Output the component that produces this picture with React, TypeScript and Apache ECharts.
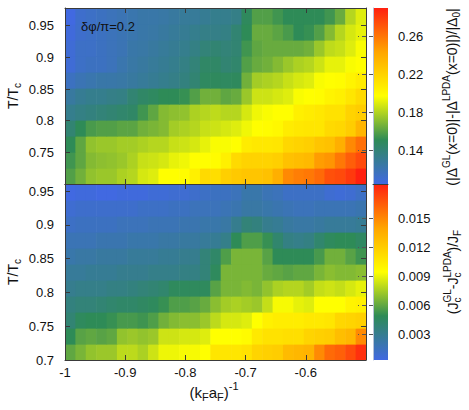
import React, { useEffect, useRef } from 'react';
import * as echarts from 'echarts';

const FONT = '"Liberation Sans", Arial, Helvetica, sans-serif';
const X_MIN = -1;
const X_MAX = -0.5;
const N_COLS = 29;
const TOP_T = [0.7, 0.978];
const BOT_T = [0.7, 0.9604];
const TOP_RANGE = [0.105, 0.2895];
const BOT_RANGE = [0.0004, 0.0185];
const PALETTE = ['#4169e1', '#2e8b57', '#ffff00', '#ffa500', '#ff2010'];

const xTicks = [-1, -0.9, -0.8, -0.7, -0.6];
const xInnerTicks = [-0.9, -0.8, -0.7, -0.6];
const topYTicks = [0.75, 0.8, 0.85, 0.9, 0.95];
const botYTicks = [0.7, 0.75, 0.8, 0.85, 0.9, 0.95];
const topBarTicks = [0.14, 0.18, 0.22, 0.26];
const botBarTicks = [0.003, 0.006, 0.009, 0.012, 0.015];

// (|Δ^GL(x=0)|-|Δ^LPDA(x=0)|)/|Δ0| ; rows from lowest T (bottom) to highest T (top), 29 columns each
const gapRows = [
  [0.159,0.166,0.173,0.175,0.175,0.179,0.181,0.188,0.190,0.198,0.198,0.199,0.205,0.216,0.214,0.222,0.225,0.227,0.227,0.229,0.238,0.253,0.257,0.259,0.264,0.273,0.275,0.281,0.290],
  [0.155,0.162,0.170,0.172,0.173,0.175,0.179,0.185,0.186,0.188,0.192,0.194,0.198,0.198,0.199,0.205,0.216,0.220,0.220,0.220,0.222,0.229,0.231,0.233,0.246,0.249,0.259,0.268,0.275],
  [0.151,0.162,0.173,0.175,0.175,0.177,0.177,0.179,0.181,0.181,0.185,0.186,0.188,0.192,0.196,0.196,0.198,0.207,0.209,0.209,0.210,0.218,0.220,0.222,0.227,0.229,0.238,0.253,0.262],
  [0.142,0.151,0.157,0.159,0.159,0.161,0.161,0.166,0.168,0.170,0.177,0.179,0.181,0.185,0.186,0.188,0.190,0.194,0.198,0.199,0.201,0.207,0.209,0.210,0.210,0.216,0.218,0.223,0.235],
  [0.133,0.136,0.138,0.140,0.142,0.144,0.146,0.155,0.162,0.170,0.172,0.173,0.179,0.181,0.183,0.181,0.181,0.188,0.194,0.196,0.198,0.198,0.205,0.207,0.209,0.212,0.212,0.220,0.223],
  [0.127,0.131,0.133,0.133,0.135,0.136,0.142,0.146,0.148,0.151,0.151,0.153,0.159,0.166,0.166,0.162,0.164,0.175,0.186,0.186,0.188,0.190,0.196,0.198,0.199,0.203,0.205,0.210,0.216],
  [0.116,0.120,0.122,0.124,0.124,0.125,0.127,0.129,0.131,0.133,0.135,0.138,0.142,0.148,0.149,0.148,0.149,0.166,0.177,0.179,0.181,0.185,0.188,0.190,0.196,0.198,0.199,0.203,0.207],
  [0.109,0.114,0.116,0.116,0.118,0.122,0.125,0.127,0.129,0.131,0.133,0.136,0.140,0.146,0.146,0.142,0.144,0.159,0.164,0.166,0.170,0.175,0.179,0.181,0.186,0.192,0.192,0.196,0.198],
  [0.109,0.114,0.114,0.116,0.118,0.120,0.124,0.125,0.127,0.129,0.131,0.133,0.136,0.140,0.142,0.140,0.142,0.155,0.162,0.164,0.164,0.164,0.164,0.166,0.175,0.183,0.185,0.190,0.196],
  [0.107,0.112,0.114,0.116,0.118,0.120,0.122,0.124,0.125,0.127,0.129,0.131,0.133,0.135,0.135,0.136,0.142,0.151,0.164,0.164,0.161,0.157,0.151,0.153,0.159,0.170,0.181,0.188,0.192],
  [0.105,0.112,0.114,0.116,0.118,0.120,0.122,0.124,0.124,0.125,0.127,0.129,0.129,0.131,0.133,0.133,0.135,0.149,0.159,0.159,0.155,0.151,0.151,0.151,0.151,0.155,0.164,0.181,0.190],
];

// (Jc^GL - Jc^LPDA)/JF ; rows from lowest T (bottom) to highest T (top)
const jcRows = [
  [0.00601,0.00655,0.00710,0.00728,0.00728,0.00800,0.00800,0.00764,0.00836,0.00909,0.00909,0.00927,0.00927,0.00945,0.01072,0.01072,0.01072,0.01090,0.01162,0.01180,0.01198,0.01289,0.01307,0.01325,0.01488,0.01597,0.01633,0.01705,0.01796],
  [0.00493,0.00583,0.00601,0.00583,0.00601,0.00710,0.00728,0.00710,0.00728,0.00836,0.00836,0.00855,0.00855,0.00873,0.00945,0.00945,0.00945,0.00963,0.01054,0.01090,0.01090,0.01108,0.01108,0.01162,0.01180,0.01198,0.01271,0.01307,0.01488],
  [0.00402,0.00474,0.00493,0.00493,0.00511,0.00547,0.00547,0.00529,0.00565,0.00637,0.00674,0.00692,0.00692,0.00728,0.00800,0.00855,0.00855,0.00873,0.00945,0.01017,0.01036,0.01036,0.01036,0.01054,0.01054,0.01072,0.01144,0.01162,0.01180],
  [0.00366,0.00384,0.00384,0.00402,0.00420,0.00438,0.00438,0.00456,0.00474,0.00511,0.00565,0.00565,0.00583,0.00619,0.00692,0.00746,0.00764,0.00746,0.00728,0.00818,0.00927,0.00927,0.00891,0.00873,0.00945,0.00945,0.00945,0.00999,0.01017],
  [0.00312,0.00330,0.00330,0.00330,0.00348,0.00348,0.00366,0.00384,0.00402,0.00420,0.00474,0.00474,0.00474,0.00474,0.00583,0.00655,0.00655,0.00674,0.00655,0.00710,0.00764,0.00782,0.00782,0.00746,0.00818,0.00836,0.00818,0.00855,0.00891],
  [0.00275,0.00275,0.00293,0.00293,0.00293,0.00312,0.00312,0.00312,0.00330,0.00330,0.00330,0.00348,0.00348,0.00384,0.00474,0.00655,0.00655,0.00655,0.00655,0.00619,0.00601,0.00583,0.00601,0.00601,0.00655,0.00692,0.00674,0.00674,0.00692],
  [0.00221,0.00239,0.00239,0.00257,0.00257,0.00257,0.00275,0.00275,0.00275,0.00293,0.00293,0.00312,0.00312,0.00384,0.00438,0.00565,0.00655,0.00655,0.00655,0.00583,0.00493,0.00493,0.00493,0.00493,0.00547,0.00637,0.00637,0.00583,0.00529],
  [0.00185,0.00185,0.00185,0.00203,0.00203,0.00203,0.00221,0.00221,0.00221,0.00239,0.00239,0.00257,0.00257,0.00275,0.00293,0.00330,0.00493,0.00565,0.00565,0.00511,0.00420,0.00348,0.00330,0.00348,0.00420,0.00474,0.00493,0.00493,0.00456],
  [0.00131,0.00149,0.00149,0.00149,0.00149,0.00167,0.00167,0.00167,0.00185,0.00185,0.00185,0.00203,0.00203,0.00221,0.00221,0.00239,0.00312,0.00384,0.00366,0.00312,0.00293,0.00257,0.00239,0.00239,0.00257,0.00275,0.00275,0.00275,0.00293],
  [0.00094,0.00112,0.00112,0.00112,0.00112,0.00112,0.00112,0.00131,0.00131,0.00131,0.00149,0.00149,0.00167,0.00167,0.00167,0.00185,0.00203,0.00239,0.00239,0.00221,0.00203,0.00185,0.00167,0.00167,0.00185,0.00185,0.00185,0.00185,0.00203],
  [0.00040,0.00058,0.00058,0.00040,0.00040,0.00058,0.00058,0.00058,0.00076,0.00076,0.00094,0.00094,0.00112,0.00131,0.00149,0.00149,0.00167,0.00221,0.00221,0.00185,0.00167,0.00131,0.00131,0.00131,0.00131,0.00094,0.00076,0.00094,0.00131],
];

function toCells(rows: number[][]) {
  const out: number[][] = [];
  rows.forEach((row, r) => row.forEach((v, c) => out.push([c, r, v])));
  return out;
}

let measureCtx: CanvasRenderingContext2D | null = null;
function measure(t: string, size: number) {
  if (!measureCtx) measureCtx = document.createElement('canvas').getContext('2d');
  measureCtx!.font = `${size}px ${FONT}`;
  return measureCtx!.measureText(t).width;
}

type Piece = { t: string; k?: 'sub' | 'sup'; adv?: boolean };
function richLabel(pieces: Piece[], x: number, y: number, size: number, rotation = 0) {
  const small = Math.round(size * 0.74);
  let cur = 0;
  const children: any[] = [];
  for (const p of pieces) {
    const fs = p.k ? small : size;
    const dy = p.k === 'sub' ? size * 0.32 : p.k === 'sup' ? -size * 0.42 : 0;
    children.push({
      type: 'text', x: cur, y: dy,
      style: { text: p.t, fontSize: fs, fontFamily: FONT, fill: '#111', align: 'left', verticalAlign: 'middle' },
    });
    if (p.adv !== false) cur += measure(p.t, fs);
  }
  children.forEach((c) => (c.x -= cur / 2));
  return { type: 'group', x, y, rotation, children };
}

const heatRender = (tRange: number[], nRows: number) => (params: any, api: any) => {
  const c = api.value(0);
  const r = api.value(1);
  const dx = (X_MAX - X_MIN) / N_COLS;
  const dy = (tRange[1] - tRange[0]) / nRows;
  const p0 = api.coord([X_MIN + c * dx, tRange[0] + (r + 1) * dy]);
  const p1 = api.coord([X_MIN + (c + 1) * dx, tRange[0] + r * dy]);
  return {
    type: 'rect',
    shape: { x: p0[0], y: p0[1], width: p1[0] - p0[0] + 0.6, height: p1[1] - p0[1] + 0.6 },
    style: { fill: api.visual('color') },
  };
};

const barRender = (params: any, api: any) => {
  const lo = api.value(0);
  const hi = api.value(1);
  const p0 = api.coord([0, hi]);
  const p1 = api.coord([1, lo]);
  return {
    type: 'rect',
    shape: { x: p0[0], y: p0[1], width: p1[0] - p0[0], height: p1[1] - p0[1] },
    style: {
      fill: new echarts.graphic.LinearGradient(0, 1, 0, 0, PALETTE.map((color, i) => ({ offset: i / (PALETTE.length - 1), color }))),
    },
  };
};

const LINE = '#3a3a3a';
const labelStyle = { fontSize: 13, fontFamily: FONT, color: '#111' };

function frameX(gridIndex: number, position: 'top' | 'bottom', labels: boolean) {
  return {
    type: 'value', gridIndex, position, min: X_MIN, max: X_MAX, z: 10,
    axisLine: { show: true, onZero: false, lineStyle: { color: LINE, width: 1 } },
    axisTick: { show: true, inside: true, length: 5, customValues: xInnerTicks, lineStyle: { color: LINE } },
    axisLabel: labels
      ? { show: true, customValues: xTicks, margin: 6, ...labelStyle }
      : { show: false },
    splitLine: { show: false },
  };
}

function frameY(gridIndex: number, position: 'left' | 'right', range: number[], ticks: number[], labels: boolean) {
  return {
    type: 'value', gridIndex, position, min: range[0], max: range[1], z: 10,
    axisLine: { show: true, onZero: false, lineStyle: { color: LINE, width: 1 } },
    axisTick: { show: true, inside: true, length: 5, customValues: ticks, lineStyle: { color: LINE } },
    axisLabel: labels ? { show: true, customValues: ticks, margin: 11, ...labelStyle } : { show: false },
    splitLine: { show: false },
  };
}

function barY(gridIndex: number, range: number[], ticks: number[]) {
  return {
    type: 'value', gridIndex, position: 'right', min: range[0], max: range[1], z: 10,
    axisLine: { show: true, lineStyle: { color: '#b4c0d8', width: 1 } },
    axisTick: { show: true, inside: true, length: 15, customValues: ticks, lineStyle: { color: '#555', type: [4, 3] } },
    axisLabel: { show: true, customValues: ticks, margin: 10, ...labelStyle },
    splitLine: { show: false },
  };
}

export default function App() {
  const ref = useRef<HTMLDivElement>(null);
  useEffect(() => {
    if (!ref.current) return;
    const chart = echarts.init(ref.current, null, { renderer: 'svg' });
    const option: any = {
      animation: false,
      backgroundColor: '#fff',
      grid: [
        { left: 65, top: 8, width: 301, height: 176 },
        { left: 65, top: 184, width: 301, height: 176 },
        { left: 373, top: 8, width: 15, height: 176 },
        { left: 373, top: 184, width: 15, height: 176 },
      ],
      xAxis: [
        frameX(0, 'bottom', false),
        frameX(0, 'top', false),
        frameX(1, 'bottom', true),
        frameX(1, 'top', false),
        { type: 'value', gridIndex: 2, min: 0, max: 1, show: false },
        {
          type: 'value', gridIndex: 3, min: 0, max: 1, position: 'top', z: 10,
          axisLine: { show: true, onZero: false, lineStyle: { color: LINE } },
          axisTick: { show: false }, axisLabel: { show: false }, splitLine: { show: false },
        },
      ],
      yAxis: [
        frameY(0, 'left', TOP_T, topYTicks, true),
        frameY(0, 'right', TOP_T, topYTicks, false),
        frameY(1, 'left', BOT_T, botYTicks, true),
        frameY(1, 'right', BOT_T, botYTicks, false),
        barY(2, TOP_RANGE, topBarTicks),
        barY(3, BOT_RANGE, botBarTicks),
      ],
      visualMap: [
        { type: 'continuous', show: false, seriesIndex: 0, dimension: 2, min: TOP_RANGE[0], max: TOP_RANGE[1], inRange: { color: PALETTE } },
        { type: 'continuous', show: false, seriesIndex: 1, dimension: 2, min: BOT_RANGE[0], max: BOT_RANGE[1], inRange: { color: PALETTE } },
      ],
      series: [
        { type: 'custom', xAxisIndex: 0, yAxisIndex: 0, clip: true, z: 1, renderItem: heatRender(TOP_T, gapRows.length), data: toCells(gapRows) },
        { type: 'custom', xAxisIndex: 2, yAxisIndex: 2, clip: true, z: 1, renderItem: heatRender(BOT_T, jcRows.length), data: toCells(jcRows) },
        { type: 'custom', xAxisIndex: 4, yAxisIndex: 4, z: 1, renderItem: barRender, data: [TOP_RANGE] },
        { type: 'custom', xAxisIndex: 5, yAxisIndex: 5, z: 1, renderItem: barRender, data: [BOT_RANGE] },
      ],
      graphic: {
        elements: [
          richLabel([{ t: 'T/T' }, { t: 'c', k: 'sub' }], 13, 96, 14, Math.PI / 2),
          richLabel([{ t: 'T/T' }, { t: 'c', k: 'sub' }], 13, 272, 14, Math.PI / 2),
          richLabel(
            [{ t: '(k' }, { t: 'F', k: 'sub' }, { t: 'a' }, { t: 'F', k: 'sub' }, { t: ')' }, { t: '-1', k: 'sup' }],
            214, 392, 15,
          ),
          richLabel(
            [
              { t: '(|Δ' }, { t: 'GL', k: 'sup' }, { t: '(x=0)|-|Δ' }, { t: 'LPDA', k: 'sup' },
              { t: '(x=0)|)/|Δ' }, { t: '0', k: 'sub' }, { t: '|' },
            ],
            452, 97, 14, Math.PI / 2,
          ),
          richLabel(
            [
              { t: '(J' }, { t: 'c', k: 'sub', adv: false }, { t: 'GL', k: 'sup' }, { t: '-J' },
              { t: 'c', k: 'sub', adv: false }, { t: 'LPDA', k: 'sup' }, { t: ')/J' }, { t: 'F', k: 'sub' },
            ],
            453, 272, 14, Math.PI / 2,
          ),
          {
            type: 'text', left: 81, top: 20, z: 20,
            style: { text: 'δφ/π=0.2', fontSize: 13, fontFamily: FONT, fill: '#111' },
          },
        ],
      },
    };
    chart.setOption(option);
    return () => chart.dispose();
  }, []);
  return <div ref={ref} style={{ position: 'absolute', left: 0, top: 0, width: 469, height: 410 }} />;
}
